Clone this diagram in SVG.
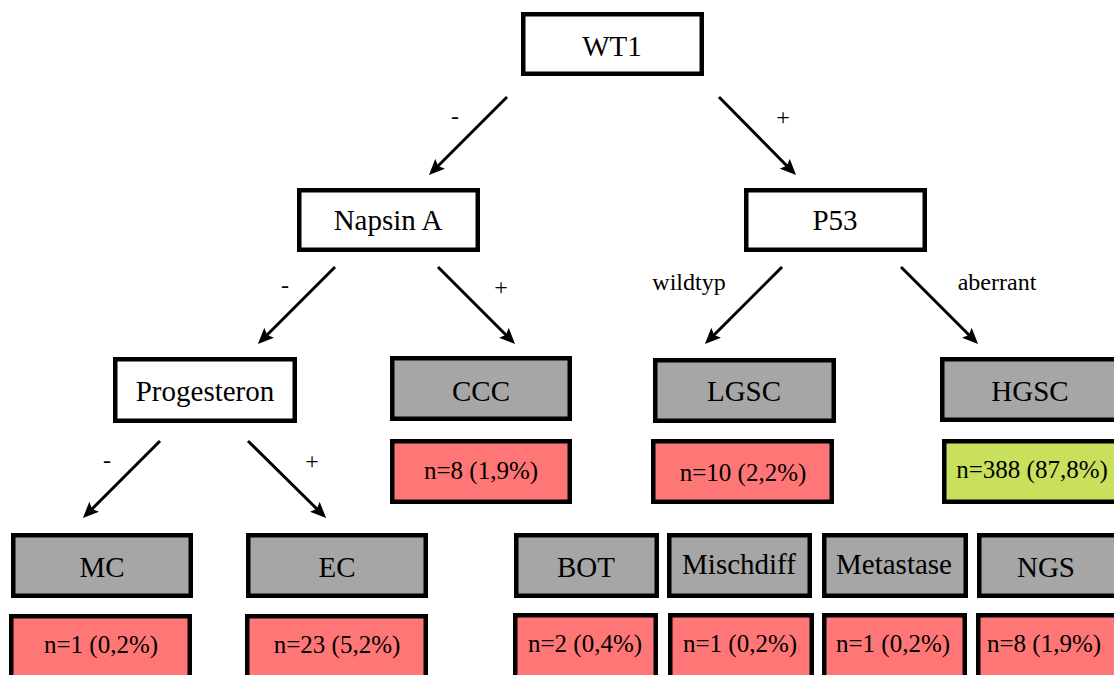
<svg xmlns="http://www.w3.org/2000/svg" width="1114" height="675" viewBox="0 0 1114 675" font-family="Liberation Serif, Times New Roman, serif">
<style>
.box{stroke:#000;stroke-width:4.5}
.w{fill:#fff}
.g{fill:#a6a6a6}
.r{fill:#ff7676}
.y{fill:#c9e05c}
text{fill:#000;text-anchor:middle}
.t{font-size:29px}
.c{font-size:25px}
.l{font-size:24px}
.e{stroke:#000;stroke-width:3;fill:none;marker-end:url(#ah)}
</style>
<defs>
<marker id="ah" markerUnits="userSpaceOnUse" viewBox="0 0 16 14" markerWidth="16" markerHeight="14" refX="6" refY="7" orient="auto">
<path d="M0,0 L16,7 L0,14 L3,7 z" fill="#000"/>
</marker>
</defs>
<rect width="1114" height="675" fill="#fff"/>
<g id="connectors">
<line class="e" x1="507" y1="97" x2="436" y2="168"/>
<line class="e" x1="719" y1="97" x2="789" y2="168"/>
<line class="e" x1="335" y1="267" x2="265" y2="337"/>
<line class="e" x1="438" y1="267" x2="508" y2="337"/>
<line class="e" x1="782" y1="267" x2="712" y2="337"/>
<line class="e" x1="901" y1="267" x2="971" y2="337"/>
<line class="e" x1="160" y1="441" x2="90" y2="511"/>
<line class="e" x1="248" y1="441" x2="319" y2="511"/>
<text class="l" x="455" y="124">-</text>
<text class="l" x="783" y="125">+</text>
<text class="l" x="285" y="293">-</text>
<text class="l" x="501" y="295">+</text>
<text class="l" x="689" y="290">wildtyp</text>
<text class="l" x="997" y="290">aberrant</text>
<text class="l" x="107" y="468">-</text>
<text class="l" x="312" y="469">+</text>
</g>
<g id="wt1"><rect class="box w" x="523.25" y="14.25" width="178.5" height="59.5"/><text class="t" x="612" y="56">WT1</text></g>
<g id="napsin"><rect class="box w" x="299.25" y="190.25" width="178.5" height="59.5"/><text class="t" x="388" y="230">Napsin A</text></g>
<g id="p53"><rect class="box w" x="746.25" y="190.25" width="178.5" height="59.5"/><text class="t" x="835" y="230">P53</text></g>
<g id="progesteron"><rect class="box w" x="115.25" y="359.25" width="179.5" height="61.5"/><text class="t" x="205" y="401">Progesteron</text></g>
<g id="ccc"><rect class="box g" x="392.25" y="358.25" width="177.5" height="60.5"/><text class="t" x="481" y="401">CCC</text></g>
<g id="ccc-n"><rect class="box r" x="392.25" y="441.25" width="177.5" height="60.5"/><text class="c" x="481" y="479">n=8 (1,9%)</text></g>
<g id="lgsc"><rect class="box g" x="655.25" y="360.25" width="178.5" height="60.5"/><text class="t" x="744" y="401">LGSC</text></g>
<g id="lgsc-n"><rect class="box r" x="653.25" y="441.25" width="178.5" height="60.5"/><text class="c" x="743" y="481">n=10 (2,2%)</text></g>
<g id="hgsc"><rect class="box g" x="942.25" y="359.25" width="180" height="60.5"/><text class="t" x="1030" y="401">HGSC</text></g>
<g id="hgsc-n"><rect class="box y" x="944.25" y="441.25" width="180" height="60.5"/><text class="c" x="1032" y="478">n=388 (87,8%)</text></g>
<g id="mc"><rect class="box g" x="13.25" y="535.25" width="177.5" height="60.5"/><text class="t" x="102" y="577">MC</text></g>
<g id="mc-n"><rect class="box r" x="11.25" y="616.25" width="178.5" height="62"/><text class="c" x="101" y="653">n=1 (0,2%)</text></g>
<g id="ec"><rect class="box g" x="248.25" y="535.25" width="177.5" height="60.5"/><text class="t" x="337" y="577">EC</text></g>
<g id="ec-n"><rect class="box r" x="247.25" y="616.25" width="178.5" height="62"/><text class="c" x="337" y="653">n=23 (5,2%)</text></g>
<g id="bot"><rect class="box g" x="516.25" y="535.25" width="140.5" height="60.5"/><text class="t" x="586" y="577">BOT</text></g>
<g id="bot-n"><rect class="box r" x="515.25" y="615.25" width="140.5" height="62"/><text class="c" x="585" y="652">n=2 (0,4%)</text></g>
<g id="mischdiff"><rect class="box g" x="669.25" y="535.25" width="140.5" height="60.5"/><text class="t" x="739" y="574">Mischdiff</text></g>
<g id="mischdiff-n"><rect class="box r" x="670.25" y="615.25" width="141.5" height="62"/><text class="c" x="740" y="652">n=1 (0,2%)</text></g>
<g id="metastase"><rect class="box g" x="824.25" y="535.25" width="141.5" height="60.5"/><text class="t" x="894" y="574">Metastase</text></g>
<g id="metastase-n"><rect class="box r" x="824.25" y="615.25" width="140.5" height="62"/><text class="c" x="893" y="652">n=1 (0,2%)</text></g>
<g id="ngs"><rect class="box g" x="979.25" y="535.25" width="145" height="60.5"/><text class="t" x="1046" y="577">NGS</text></g>
<g id="ngs-n"><rect class="box r" x="978.25" y="615.25" width="145" height="62"/><text class="c" x="1044" y="652">n=8 (1,9%)</text></g>
</svg>
